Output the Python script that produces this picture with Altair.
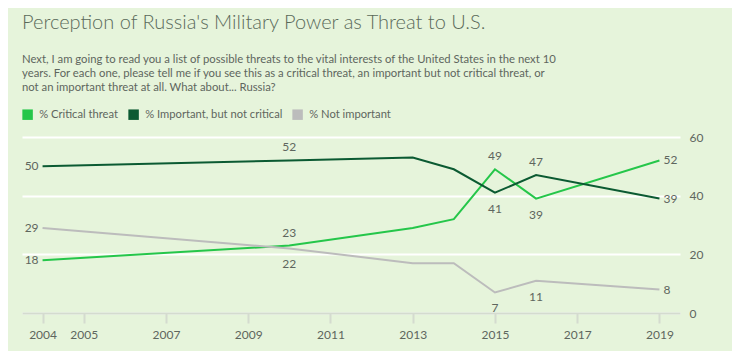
import altair as alt
import pandas as pd

years = [2004, 2010, 2013, 2014, 2015, 2016, 2019]
critical = [18, 23, 29, 32, 49, 39, 52]
important = [50, 52, 53, 49, 41, 47, 39]
not_important = [29, 22, 17, 17, 7, 11, 8]
series_names = ["% Critical threat", "% Important, but not critical", "% Not important"]
series_colors = ["#25c64a", "#0b5a32", "#bcbcbc"]
x_tick_years = [2004, 2005, 2007, 2009, 2011, 2013, 2015, 2017, 2019]
y_ticks = [0, 20, 40, 60]
labeled_years = [2004, 2010, 2015, 2016, 2019]

rows = []
for name, vals in zip(series_names, [critical, important, not_important]):
    for yr, v in zip(years, vals):
        rows.append({"year": yr, "value": v, "series": name})
df = pd.DataFrame(rows)

# label placement (style, not data)
above = {(2010, series_names[0]), (2010, series_names[1]),
         (2015, series_names[0]), (2016, series_names[1])}

def place(r):
    if r["year"] == 2004:
        return "left"
    if r["year"] == 2019:
        return "right"
    return "above" if (r["year"], r["series"]) in above else "below"

lab = df[df["year"].isin(labeled_years)].copy()
lab["pos"] = lab.apply(place, axis=1)

font = "Lato"
txt_color = "#5e665e"
color_scale = alt.Scale(domain=series_names, range=series_colors)

base = alt.Chart(df).encode(
    x=alt.X("year:Q", scale=alt.Scale(domain=[2003.5, 2019.5], nice=False, zero=False),
            axis=alt.Axis(values=x_tick_years, format="d", title=None, grid=False,
                          domainColor="#d4dbcf", domainWidth=2, tickColor="#d4dbcf",
                          tickWidth=2, tickSize=10, labelPadding=6, labelFontSize=12,
                          labelColor=txt_color, labelFont=font)),
    y=alt.Y("value:Q", scale=alt.Scale(domain=[0, 60], nice=False),
            axis=alt.Axis(orient="right", values=y_ticks, title=None, grid=True,
                          gridColor="#ffffff", gridWidth=2, domain=False, ticks=False,
                          labelPadding=9, labelFontSize=12, labelColor=txt_color,
                          labelFont=font)),
)

legend_layer = base.mark_square(opacity=0).encode(
    color=alt.Color("series:N", scale=color_scale,
                    legend=alt.Legend(title=None, orient="none", legendX=0, legendY=-28,
                                      direction="horizontal", symbolType="square",
                                      symbolSize=110, symbolStrokeWidth=0,
                                      labelFontSize=11.2, labelColor=txt_color,
                                      labelFont=font, columnPadding=9, labelOffset=6,
                                      symbolOpacity=1))
)

lines = base.mark_line(strokeWidth=2).encode(
    color=alt.Color("series:N", scale=color_scale, legend=None)
)

lab_base = alt.Chart(lab).encode(
    x=alt.X("year:Q"), y=alt.Y("value:Q"), text=alt.Text("value:Q")
)
tstyle = dict(fontSize=12, color=txt_color, font=font)
t_left = lab_base.transform_filter(alt.datum.pos == "left").mark_text(align="right", dx=-4, dy=0, **tstyle)
t_right = lab_base.transform_filter(alt.datum.pos == "right").mark_text(align="left", dx=4, dy=0, **tstyle)
t_above = lab_base.transform_filter(alt.datum.pos == "above").mark_text(align="center", dy=-13, **tstyle)
t_below = lab_base.transform_filter(alt.datum.pos == "below").mark_text(align="center", dy=16, **tstyle)

chart = alt.layer(legend_layer, lines, t_left, t_right, t_above, t_below).resolve_scale(
    color="independent"
).properties(
    width=658, height=176,
    autosize=alt.AutoSizeParams(type="none"),
    padding={"left": 14, "top": 129, "right": 52, "bottom": 38},
    background="#e6f4db",
    title=alt.TitleParams(
        text="Perception of Russia's Military Power as Threat to U.S.",
        subtitle=["Next, I am going to read you a list of possible threats to the vital interests of the United States in the next 10",
                  "years. For each one, please tell me if you see this as a critical threat, an important but not critical threat, or",
                  "not an important threat at all. What about... Russia?"],
        anchor="start", frame="group", offset=16, fontSize=20, fontWeight=300,
        font=font, color="#5a6a5a", subtitleFont=font, subtitleFontSize=11.3,
        subtitleColor="#5e665e", subtitleLineHeight=14, subtitlePadding=21,
    ),
).configure_view(stroke=None)

chart.save("out.html", embed_options={"renderer": "svg", "actions": False})
